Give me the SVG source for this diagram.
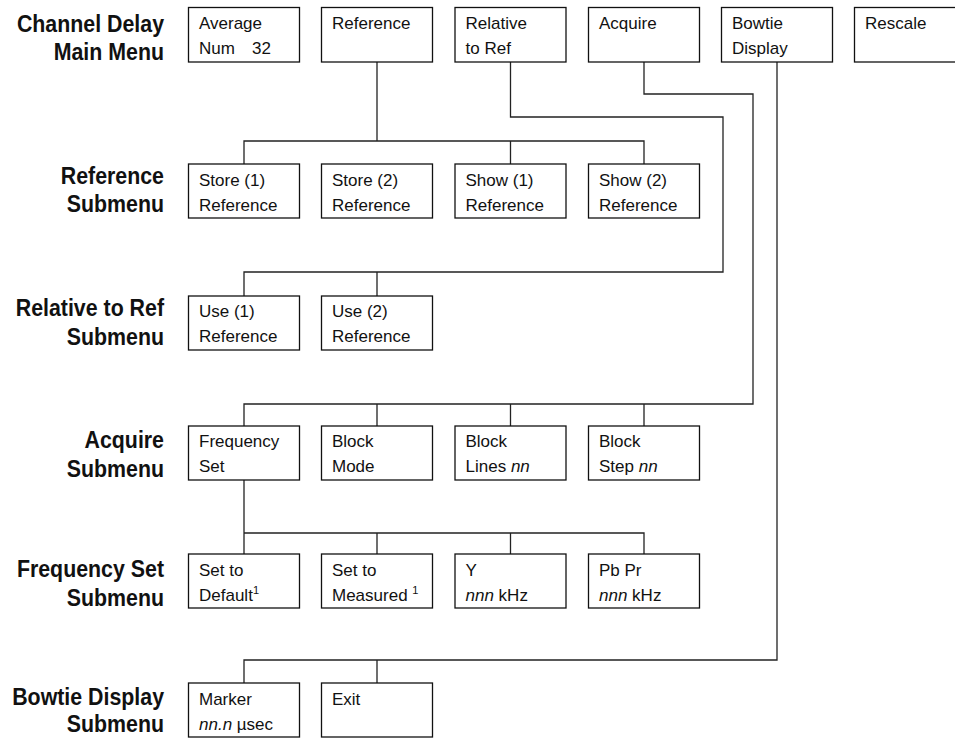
<svg xmlns="http://www.w3.org/2000/svg" width="955" height="738" viewBox="0 0 955 738">
<style>
.box{fill:#fff;stroke:#111;stroke-width:1.3}
.t{font-family:"Liberation Sans",Arial,sans-serif;font-size:17px;fill:#111}
.i{font-style:italic}
.sup{font-size:11px}
.lbl{font-family:"Liberation Sans",Arial,sans-serif;font-size:24px;font-weight:bold;fill:#111;text-anchor:end}
.c{fill:none;stroke:#222;stroke-width:1.3}
</style>
<rect width="955" height="738" fill="#fff"/>
<g id="labels">
<g transform="translate(164 0) scale(0.89 1)">
<text class="lbl" x="0" y="32">Channel Delay</text>
<text class="lbl" x="0" y="60">Main Menu</text>
<text class="lbl" x="0" y="184">Reference</text>
<text class="lbl" x="0" y="212">Submenu</text>
<text class="lbl" x="0" y="316">Relative to Ref</text>
<text class="lbl" x="0" y="345">Submenu</text>
<text class="lbl" x="0" y="448">Acquire</text>
<text class="lbl" x="0" y="477">Submenu</text>
<text class="lbl" x="0" y="577">Frequency Set</text>
<text class="lbl" x="0" y="606">Submenu</text>
<text class="lbl" x="0" y="705">Bowtie Display</text>
<text class="lbl" x="0" y="732">Submenu</text>
</g>
</g>
<g id="connectors">
<path class="c" d="M377 62V141M244 164V141H644V164M510.5 141V164"/>
<path class="c" d="M510.5 62V117H723V272H244V296M377 272V296"/>
<path class="c" d="M644 62V94H753V404H244V426M377 404V426M510.5 404V426M644 404V426"/>
<path class="c" d="M244 480V554M244 533H644V554M377 533V554M510.5 533V554"/>
<path class="c" d="M777 62V660H244V683M377 660V683"/>
</g>
<g id="n-average"><rect class="box" x="188.5" y="7.5" width="111" height="54.5"/><text class="t" x="199" y="28.5">Average</text><text class="t" x="199" y="53.5">Num<tspan x="252">32</tspan></text></g>
<g id="n-reference"><rect class="box" x="321.5" y="7.5" width="111" height="54.5"/><text class="t" x="332" y="28.5">Reference</text></g>
<g id="n-relative"><rect class="box" x="455" y="7.5" width="111" height="54.5"/><text class="t" x="465.5" y="28.5">Relative</text><text class="t" x="465.5" y="53.5">to Ref</text></g>
<g id="n-acquire"><rect class="box" x="588.5" y="7.5" width="111" height="54.5"/><text class="t" x="599" y="28.5">Acquire</text></g>
<g id="n-bowtie"><rect class="box" x="721.5" y="7.5" width="111" height="54.5"/><text class="t" x="732" y="28.5">Bowtie</text><text class="t" x="732" y="53.5">Display</text></g>
<g id="n-rescale"><rect class="box" x="854.5" y="7.5" width="111" height="54.5"/><text class="t" x="865" y="28.5">Rescale</text></g>

<g id="n-store1"><rect class="box" x="188.5" y="164" width="111" height="54"/><text class="t" x="199" y="186">Store (1)</text><text class="t" x="199" y="211">Reference</text></g>
<g id="n-store2"><rect class="box" x="321.5" y="164" width="111" height="54"/><text class="t" x="332" y="186">Store (2)</text><text class="t" x="332" y="211">Reference</text></g>
<g id="n-show1"><rect class="box" x="455" y="164" width="111" height="54"/><text class="t" x="465.5" y="186">Show (1)</text><text class="t" x="465.5" y="211">Reference</text></g>
<g id="n-show2"><rect class="box" x="588.5" y="164" width="111" height="54"/><text class="t" x="599" y="186">Show (2)</text><text class="t" x="599" y="211">Reference</text></g>

<g id="n-use1"><rect class="box" x="188.5" y="296" width="111" height="54"/><text class="t" x="199" y="317">Use (1)</text><text class="t" x="199" y="342">Reference</text></g>
<g id="n-use2"><rect class="box" x="321.5" y="296" width="111" height="54"/><text class="t" x="332" y="317">Use (2)</text><text class="t" x="332" y="342">Reference</text></g>

<g id="n-freqset"><rect class="box" x="188.5" y="426" width="111" height="54"/><text class="t" x="199" y="447">Frequency</text><text class="t" x="199" y="472">Set</text></g>
<g id="n-blockmode"><rect class="box" x="321.5" y="426" width="111" height="54"/><text class="t" x="332" y="447">Block</text><text class="t" x="332" y="472">Mode</text></g>
<g id="n-blocklines"><rect class="box" x="455" y="426" width="111" height="54"/><text class="t" x="465.5" y="447">Block</text><text class="t" x="465.5" y="472">Lines <tspan class="i">nn</tspan></text></g>
<g id="n-blockstep"><rect class="box" x="588.5" y="426" width="111" height="54"/><text class="t" x="599" y="447">Block</text><text class="t" x="599" y="472">Step <tspan class="i">nn</tspan></text></g>

<g id="n-default"><rect class="box" x="188.5" y="554" width="111" height="54"/><text class="t" x="199" y="576">Set to</text><text class="t" x="199" y="601">Default<tspan class="sup" dy="-7">1</tspan></text></g>
<g id="n-measured"><rect class="box" x="321.5" y="554" width="111" height="54"/><text class="t" x="332" y="576">Set to</text><text class="t" x="332" y="601">Measured <tspan class="sup" dy="-7">1</tspan></text></g>
<g id="n-y"><rect class="box" x="455" y="554" width="111" height="54"/><text class="t" x="465.5" y="576">Y</text><text class="t" x="465.5" y="601"><tspan class="i">nnn</tspan> kHz</text></g>
<g id="n-pbpr"><rect class="box" x="588.5" y="554" width="111" height="54"/><text class="t" x="599" y="576">Pb Pr</text><text class="t" x="599" y="601"><tspan class="i">nnn</tspan> kHz</text></g>

<g id="n-marker"><rect class="box" x="188.5" y="683" width="111" height="54"/><text class="t" x="199" y="705">Marker</text><text class="t" x="199" y="730"><tspan class="i">nn.n</tspan> µsec</text></g>
<g id="n-exit"><rect class="box" x="321.5" y="683" width="111" height="54"/><text class="t" x="332" y="705">Exit</text></g>
</svg>
